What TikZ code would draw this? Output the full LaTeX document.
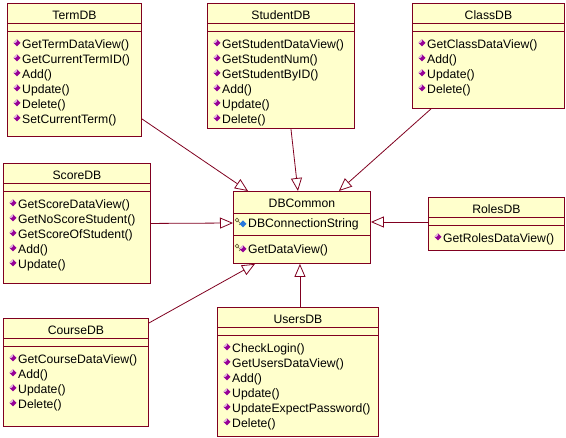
\documentclass[tikz,border=0pt]{standalone}
\usepackage{fontspec}
\setmainfont{Liberation Sans}
\usetikzlibrary{arrows.meta, calc}

\definecolor{umlline}{RGB}{128,0,32}
\definecolor{umlfill}{RGB}{255,255,204}
\definecolor{opicon}{RGB}{150,0,150}
\definecolor{attricon}{RGB}{40,120,220}
\definecolor{keygrey}{RGB}{110,100,60}

% purple operation mark
\newcommand{\opmark}[1]{%
  \fill[opicon] #1 +(-3.5,0) -- +(0,-3.5) -- +(3.5,0) -- +(0,3.5) -- cycle;
  \fill[opicon!30!white] #1 +(-3.5,0) -- +(0,-3.5) -- +(0,-1.7) -- +(-1.7,0) -- cycle;}
% key mark for DBCommon members
\newcommand{\keymark}[1]{%
  \draw[keygrey, line width=0.7pt] #1 circle (1.8)
        #1 +(1.3,1.3) -- +(5,5) #1 +(3.5,3.5) -- +(2,5);}

% class box: name, corner, width, height, title, operations
\newcommand{\umlclass}[6]{%
  \node[classbox, minimum width=#3pt, minimum height=#4pt] (#1) at #2 {};
  \node[anchor=base] (#1-title) at ($(#1.north)+(0,16.5)$) {#5};
  \draw[umlline, line width=0.9pt] ($(#1.north west)+(0,20)$) -- ($(#1.north east)+(0,20)$);
  \draw[umlline, line width=0.9pt] ($(#1.north west)+(0,28)$) -- ($(#1.north east)+(0,28)$);
  \foreach \m [count=\i] in {#6} {
    \node[op] (#1-op\i) at ($(#1.north west)+(15,31+15*\i)$) {\m};
    \opmark{($(#1.north west)+(10,25+15*\i)$)}
  }}

\begin{document}
\begin{tikzpicture}[x=1pt, y=-1pt,
    every node/.style={font=\fontsize{12.2}{14}\selectfont, inner sep=0pt},
    classbox/.style={rectangle, draw=umlline, fill=umlfill, line width=0.9pt,
                     anchor=north west},
    op/.style={anchor=base west},
    generalize/.style={draw=umlline, line width=0.8pt,
                       -{Triangle[open, length=13pt, width=11pt]}}
]
    \path[use as bounding box, fill=white] (0,0) rectangle (566,438);

    \umlclass{term}{(7,3)}{134}{133}{TermDB}
      {GetTermDataView(),GetCurrentTermID(),Add(),Update(),Delete(),SetCurrentTerm()}
    \umlclass{student}{(207,3)}{147}{125}{StudentDB}
      {GetStudentDataView(),GetStudentNum(),GetStudentByID(),Add(),Update(),Delete()}
    \umlclass{class}{(412,3)}{152}{105}{ClassDB}
      {GetClassDataView(),Add(),Update(),Delete()}
    \umlclass{score}{(3,163)}{147}{120}{ScoreDB}
      {GetScoreDataView(),GetNoScoreStudent(),GetScoreOfStudent(),Add(),Update()}
    \umlclass{roles}{(428,197)}{136}{53}{RolesDB}
      {GetRolesDataView()}
    \umlclass{course}{(3,318)}{145}{108}{CourseDB}
      {GetCourseDataView(),Add(),Update(),Delete()}
    \umlclass{users}{(217,307)}{161}{129}{UsersDB}
      {CheckLogin(),GetUsersDataView(),Add(),Update(),UpdateExpectPassword(),Delete()}

    % common base class
    \node[classbox, minimum width=137pt, minimum height=72pt] (dbc) at (233,191) {};
    \node[anchor=base] (dbc-title) at ($(dbc.north)+(0,17)$) {DBCommon};
    \draw[umlline, line width=0.9pt] ($(dbc.north west)+(0,22)$) -- ($(dbc.north east)+(0,22)$);
    \draw[umlline, line width=0.9pt] ($(dbc.north west)+(0,44)$) -- ($(dbc.north east)+(0,44)$);
    \node[op] (dbc-attr) at ($(dbc.north west)+(15,37)$) {DBConnectionString};
    \node[op] (dbc-op) at ($(dbc.north west)+(15,63)$) {GetDataView()};
    \keymark{($(dbc.north west)+(4,29)$)}
    \fill[attricon] ($(dbc.north west)+(10,33)$) +(-3.5,0) -- +(0,-3.5) -- +(3.5,0) -- +(0,3.5) -- cycle;
    \keymark{($(dbc.north west)+(4,55)$)}
    \opmark{($(dbc.north west)+(10,58)$)}

    % generalizations
    \draw[generalize] ($(term.south east)+(0,-18)$) -- ($(dbc.north west)+(15,0)$);
    \draw[generalize] ($(student.south)+(10,0)$) -- ($(dbc.north)+(-4,0)$);
    \draw[generalize] ($(class.south west)+(19,0)$) -- ($(dbc.north east)+(-32,0)$);
    \draw[generalize] (score.east) -- ($(dbc.north west)+(0,32)$);
    \draw[generalize] ($(roles.north west)+(0,25)$) -- ($(dbc.north east)+(0,31)$);
    \draw[generalize] ($(course.north east)+(0,5)$) -- ($(dbc.south west)+(22,0)$);
    \draw[generalize] ($(users.north)+(2,0)$) -- ($(dbc.south)+(-2,0)$);
\end{tikzpicture}
\end{document}
